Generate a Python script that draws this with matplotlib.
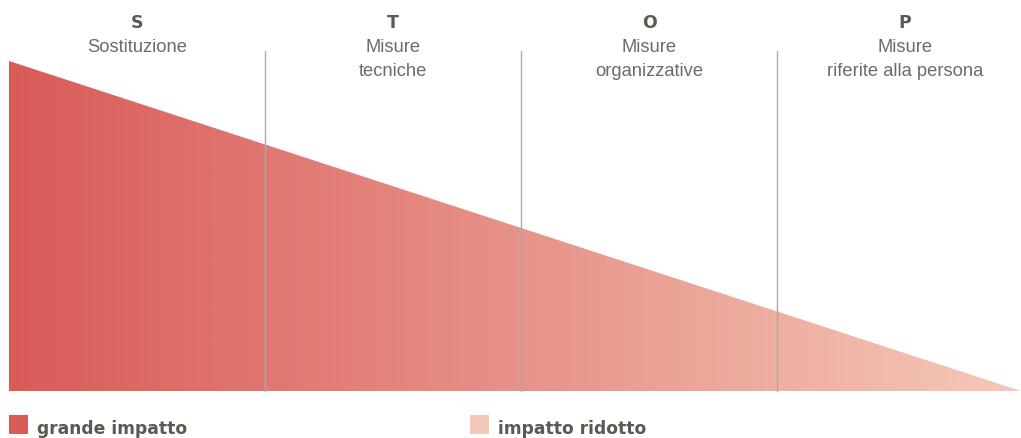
import numpy as np
import matplotlib.pyplot as plt
from matplotlib.colors import LinearSegmentedColormap
from matplotlib.patches import Polygon, Rectangle

letters = ["S", "T", "O", "P"]
subtitles = ["Sostituzione", "Misure\ntecniche", "Misure\norganizzative", "Misure\nriferite alla persona"]
impact_start = 1.0   # impatto a sinistra
impact_end = 0.0     # impatto a destra
legend_labels = ["grande impatto", "impatto ridotto"]
color_high = "#d95b58"
color_low = "#f5c9b9"

fig = plt.figure(figsize=(10.21, 4.39), dpi=100)
ax = fig.add_axes([0, 0, 1, 1])
ax.set_xlim(0, 1021)
ax.set_ylim(439, 0)
ax.axis("off")

x0, col_w = 9, 256
y_base, h = 392, 330
x1 = 1021

cmap = LinearSegmentedColormap.from_list("imp", [color_high, color_low])
grad = np.linspace(0, 1, 512).reshape(1, -1)
im = ax.imshow(grad, cmap=cmap, extent=[x0, x1, y_base, y_base - h], aspect="auto", zorder=1)
tri = Polygon([[x0, y_base], [x0, y_base - h * impact_start], [x1, y_base - h * impact_end]],
              closed=True, facecolor="none", edgecolor="none")
ax.add_patch(tri)
im.set_clip_path(tri)

for i, (l, s) in enumerate(zip(letters, subtitles)):
    cx = x0 + col_w * (i + 0.5)
    ax.text(cx, 23, l, ha="center", va="center", fontsize=12.5, fontweight="bold",
            family="DejaVu Sans", color="#5a5a50")
    ax.text(cx, 39.5, s, ha="center", va="top", fontsize=13.2, family="Liberation Sans",
            color="#6b6b6b", linespacing=1.48)
    if i > 0:
        xl = x0 + col_w * i
        ax.plot([xl, xl], [52, y_base], color="#aaaaaa", lw=1.0, zorder=2)

for j, (lab, c) in enumerate(zip(legend_labels, [color_high, color_low])):
    lx = x0 + j * 461
    ax.add_patch(Rectangle((lx, 416), 19, 19, facecolor=c, edgecolor="none"))
    ax.text(lx + 28, 429, lab, ha="left", va="center", fontsize=12.3, fontweight="bold",
            family="DejaVu Sans", color="#5a5a50")

fig.savefig("out.png", dpi=100)
